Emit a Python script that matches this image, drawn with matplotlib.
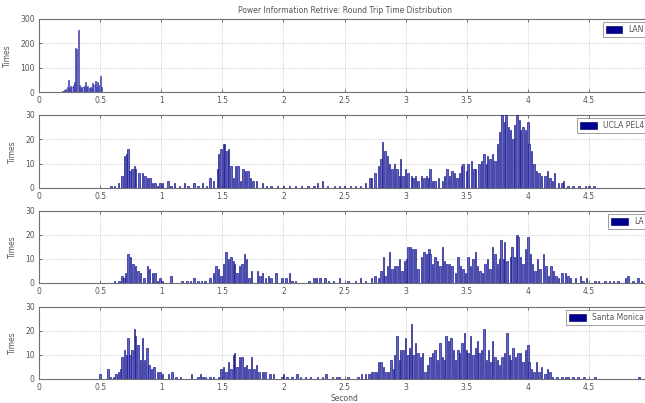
import matplotlib
matplotlib.use("Agg")
import matplotlib.pyplot as plt

title = "Power Information Retrive: Round Trip Time Distribution"
x_label = "Second"
y_label = "Times"
x_ticks = [0, 0.5, 1, 1.5, 2, 2.5, 3, 3.5, 4, 4.5]
x_tick_labels = ["0", "0.5", "1", "1.5", "2", "2.5", "3", "3.5", "4", "4.5"]

# LAN
lan_sec = [0.19, 0.20, 0.21, 0.22, 0.23, 0.24, 0.25, 0.26, 0.27, 0.28, 0.29, 0.30, 0.31, 0.32,
           0.33, 0.34, 0.35, 0.36, 0.37, 0.38, 0.39, 0.40, 0.41, 0.42, 0.43, 0.44, 0.45, 0.46,
           0.47, 0.48, 0.49, 0.50, 0.51]
lan_cnt = [3, 5, 10, 12, 20, 50, 15, 25, 20, 30, 40, 180, 175, 255,
           30, 20, 15, 20, 25, 40, 20, 25, 15, 20, 15, 35, 30, 45,
           20, 40, 30, 65, 20]

# UCLA PEL4
ucla_sec = [0.59, 0.62, 0.65, 0.68, 0.70, 0.715, 0.73, 0.745, 0.76, 0.78, 0.79, 0.82, 0.845, 0.867,
            0.89, 0.91, 0.93, 0.95, 0.97, 0.99, 1.01, 1.055, 1.08, 1.11, 1.15, 1.19, 1.22, 1.27,
            1.30, 1.34, 1.37, 1.40, 1.43, 1.46, 1.47, 1.49, 1.51, 1.52, 1.54, 1.55, 1.57, 1.59,
            1.61, 1.63, 1.65, 1.67, 1.69, 1.71, 1.73, 1.75, 1.78, 1.83, 1.86, 1.90, 1.95, 2.00,
            2.05, 2.10, 2.15, 2.20, 2.25, 2.28, 2.32, 2.36, 2.42, 2.46, 2.50, 2.55, 2.59, 2.63,
            2.67, 2.71, 2.72, 2.75, 2.78, 2.80, 2.81, 2.83, 2.85, 2.87, 2.89, 2.91, 2.93, 2.95,
            2.96, 2.98, 3.00, 3.02, 3.05, 3.06, 3.08, 3.10, 3.13, 3.15, 3.17, 3.19, 3.20, 3.22,
            3.24, 3.27, 3.30, 3.32, 3.34, 3.36, 3.38, 3.40, 3.42, 3.44, 3.46, 3.47, 3.50, 3.51,
            3.54, 3.56, 3.57, 3.60, 3.62, 3.64, 3.66, 3.67, 3.69, 3.71, 3.73, 3.75, 3.77, 3.79,
            3.81, 3.82, 3.84, 3.86, 3.88, 3.89, 3.91, 3.93, 3.94, 3.96, 3.98, 4.00, 4.01, 4.03,
            4.05, 4.07, 4.09, 4.11, 4.14, 4.16, 4.18, 4.20, 4.22, 4.25, 4.28, 4.29, 4.33, 4.37,
            4.42, 4.47, 4.50, 4.54]
ucla_cnt = [1, 1, 2, 5, 13, 14, 16, 7, 8, 9, 8, 6, 6, 5,
            4, 4, 2, 2, 1, 2, 2, 3, 1, 2, 1, 2, 1, 2,
            1, 2, 1, 4, 3, 8, 14, 16, 18, 18, 15, 16, 9, 4,
            9, 9, 3, 8, 7, 7, 4, 3, 3, 2, 1, 1, 1, 1,
            1, 1, 1, 1, 1, 2, 3, 1, 1, 1, 1, 1, 1, 1,
            2, 4, 4, 6, 9, 12, 19, 15, 13, 10, 8, 10, 8, 5,
            12, 5, 8, 6, 5, 4, 5, 3, 5, 4, 5, 4, 8, 3,
            3, 4, 3, 5, 8, 5, 7, 6, 4, 6, 9, 10, 7, 10,
            11, 8, 8, 10, 11, 14, 10, 13, 12, 14, 11, 18, 23, 30,
            27, 30, 25, 24, 20, 26, 30, 28, 24, 25, 24, 27, 18, 15,
            10, 7, 6, 5, 5, 7, 4, 3, 6, 2, 2, 3, 1, 1,
            1, 1, 1, 1]

# LA
la_sec = [0.62, 0.655, 0.68, 0.695, 0.71, 0.73, 0.75, 0.77, 0.79, 0.81, 0.83, 0.86, 0.89, 0.905,
          0.93, 0.95, 0.97, 0.99, 1.01, 1.08, 1.17, 1.21, 1.24, 1.27, 1.30, 1.33, 1.36, 1.40,
          1.43, 1.45, 1.47, 1.49, 1.51, 1.53, 1.55, 1.57, 1.59, 1.60, 1.62, 1.64, 1.66, 1.68,
          1.70, 1.72, 1.74, 1.79, 1.81, 1.83, 1.855, 1.88, 1.90, 1.94, 1.99, 2.02, 2.05, 2.07,
          2.10, 2.21, 2.25, 2.27, 2.30, 2.34, 2.37, 2.41, 2.46, 2.53, 2.59, 2.63, 2.67, 2.72,
          2.75, 2.78, 2.80, 2.82, 2.83, 2.85, 2.87, 2.89, 2.91, 2.93, 2.95, 2.97, 2.99, 3.01,
          3.02, 3.04, 3.06, 3.08, 3.10, 3.13, 3.15, 3.17, 3.19, 3.20, 3.22, 3.24, 3.26, 3.28,
          3.30, 3.32, 3.34, 3.36, 3.38, 3.41, 3.43, 3.45, 3.47, 3.49, 3.51, 3.53, 3.55, 3.57,
          3.59, 3.61, 3.63, 3.65, 3.67, 3.69, 3.71, 3.73, 3.75, 3.77, 3.78, 3.80, 3.81, 3.83,
          3.86, 3.87, 3.89, 3.91, 3.92, 3.94, 3.96, 3.98, 4.00, 4.02, 4.04, 4.06, 4.08, 4.10,
          4.13, 4.15, 4.17, 4.19, 4.21, 4.23, 4.25, 4.28, 4.31, 4.33, 4.35, 4.39, 4.43, 4.45,
          4.48, 4.55, 4.58, 4.63, 4.67, 4.70, 4.74, 4.80, 4.82, 4.86, 4.90, 4.93]
la_cnt = [1, 1, 3, 2, 4, 12, 11, 8, 7, 5, 4, 2, 7, 6,
          4, 4, 1, 2, 1, 3, 1, 1, 1, 2, 1, 1, 1, 2,
          4, 7, 6, 3, 8, 13, 10, 11, 9, 8, 4, 7, 8, 12,
          10, 2, 5, 5, 3, 4, 2, 3, 2, 4, 2, 2, 4, 1,
          1, 1, 2, 2, 2, 2, 1, 1, 2, 1, 1, 2, 1, 2,
          3, 2, 5, 11, 3, 7, 13, 6, 7, 7, 10, 5, 9, 10,
          15, 15, 14, 14, 6, 11, 13, 12, 14, 12, 8, 11, 9, 7,
          15, 9, 8, 8, 7, 4, 11, 7, 6, 4, 11, 7, 10, 13,
          7, 5, 4, 8, 10, 6, 15, 12, 8, 10, 18, 10, 17, 9,
          11, 15, 11, 20, 19, 11, 8, 14, 19, 12, 8, 5, 10, 6,
          12, 7, 3, 7, 5, 3, 2, 4, 4, 3, 2, 2, 3, 1,
          2, 1, 1, 1, 1, 1, 1, 2, 3, 1, 2, 1]

# Santa Monica
sm_sec = [0.50, 0.565, 0.585, 0.61, 0.63, 0.65, 0.67, 0.68, 0.70, 0.715, 0.73, 0.745, 0.76, 0.78,
          0.79, 0.81, 0.83, 0.845, 0.865, 0.885, 0.90, 0.92, 0.94, 0.97, 0.99, 1.01, 1.06, 1.09,
          1.12, 1.16, 1.25, 1.30, 1.32, 1.34, 1.36, 1.40, 1.43, 1.47, 1.49, 1.51, 1.53, 1.55,
          1.57, 1.59, 1.60, 1.62, 1.64, 1.66, 1.68, 1.70, 1.72, 1.74, 1.76, 1.78, 1.80, 1.83,
          1.85, 1.89, 1.92, 1.99, 2.00, 2.03, 2.07, 2.11, 2.14, 2.18, 2.22, 2.28, 2.32, 2.35,
          2.40, 2.44, 2.46, 2.53, 2.61, 2.64, 2.67, 2.70, 2.72, 2.74, 2.76, 2.78, 2.80, 2.82,
          2.84, 2.86, 2.88, 2.90, 2.91, 2.93, 2.95, 2.96, 2.98, 3.00, 3.02, 3.03, 3.05, 3.06,
          3.08, 3.10, 3.12, 3.14, 3.16, 3.18, 3.20, 3.22, 3.24, 3.26, 3.28, 3.30, 3.32, 3.33,
          3.35, 3.37, 3.39, 3.41, 3.43, 3.44, 3.46, 3.48, 3.50, 3.51, 3.53, 3.55, 3.57, 3.59,
          3.60, 3.62, 3.64, 3.66, 3.68, 3.70, 3.71, 3.73, 3.75, 3.77, 3.79, 3.81, 3.83, 3.85,
          3.86, 3.88, 3.90, 3.92, 3.94, 3.96, 3.98, 4.00, 4.01, 4.03, 4.05, 4.07, 4.09, 4.11,
          4.14, 4.16, 4.18, 4.20, 4.24, 4.28, 4.31, 4.33, 4.37, 4.41, 4.46, 4.55, 4.91]
sm_cnt = [2, 4, 1, 1, 2, 3, 4, 9, 12, 10, 17, 10, 12, 21,
          18, 14, 8, 17, 8, 13, 6, 4, 5, 3, 3, 2, 2, 3,
          1, 1, 2, 1, 2, 1, 1, 1, 1, 1, 4, 5, 3, 7,
          4, 10, 11, 5, 9, 9, 5, 6, 4, 9, 4, 6, 3, 3,
          3, 2, 2, 1, 2, 1, 1, 2, 1, 1, 1, 1, 1, 2,
          1, 1, 1, 1, 1, 2, 2, 2, 3, 3, 3, 7, 7, 5,
          3, 3, 8, 4, 10, 18, 8, 12, 12, 17, 10, 13, 23, 10,
          15, 11, 9, 11, 3, 6, 9, 11, 12, 8, 15, 9, 8, 18,
          16, 17, 12, 8, 12, 11, 15, 19, 12, 11, 18, 10, 13, 16,
          11, 12, 21, 8, 12, 7, 16, 9, 8, 6, 9, 11, 19, 10,
          8, 13, 9, 11, 11, 7, 12, 14, 7, 4, 3, 7, 3, 5,
          2, 4, 3, 1, 1, 1, 1, 1, 1, 1, 1, 1, 1]

series = [
    ("LAN", lan_sec, lan_cnt, 300, [0, 100, 200, 300], 0.009),
    ("UCLA PEL4", ucla_sec, ucla_cnt, 30, [0, 10, 20, 30], 0.012),
    ("LA", la_sec, la_cnt, 30, [0, 10, 20, 30], 0.012),
    ("Santa Monica", sm_sec, sm_cnt, 30, [0, 10, 20, 30], 0.012),
]

W, H = 645, 403
fig = plt.figure(figsize=(W / 100, H / 100), dpi=100)
fig.patch.set_facecolor("white")

# axes boxes in pixels: (top, bottom)
boxes = [(19, 92), (115, 188), (211, 283), (307, 379)]
left_px, right_px = 39, 650

txt = "#555555"

for i, ((name, xs, ys, ymax, yt, bw), (t, b)) in enumerate(zip(series, boxes)):
    ax = fig.add_axes([left_px / W, 1 - b / H, (right_px - left_px) / W, (b - t) / H])
    if i == 0:
        face, edge = "#9c9ce0", "#2a2aa0"
    else:
        face, edge = "#6565c4", "#10108a"
    ax.bar(xs, ys, width=bw, align="center", color=face, edgecolor=edge,
           linewidth=0.45, label=name, zorder=3)
    ax.set_xlim(0, 5)
    ax.set_ylim(0, ymax)
    ax.set_xticks(x_ticks)
    ax.set_xticklabels(x_tick_labels)
    ax.set_yticks(yt)
    ax.tick_params(direction="in", length=2.5, width=0.6, labelsize=5.5,
                   colors="#606060", labelcolor=txt, pad=3, top=True, right=True)
    ax.grid(True, linestyle=":", linewidth=0.5, color="#b0b0b0", zorder=0)
    for s in ax.spines.values():
        s.set_color("#707070")
        s.set_linewidth(0.8)
    ax.set_ylabel(y_label, fontsize=5.5, color=txt, labelpad=6)
    leg = ax.legend(loc="upper right", fontsize=5.5, frameon=True, fancybox=False,
                    borderaxespad=0.4, handlelength=2.2, handleheight=0.9,
                    borderpad=0.4, labelcolor=txt)
    leg.get_frame().set_edgecolor("#707070")
    leg.get_frame().set_linewidth(0.6)
    for p in leg.get_patches():
        p.set_facecolor("#000090")
        p.set_edgecolor("#000060")
    if i == 0:
        ax.set_title(title, fontsize=5.5, color=txt, pad=4)
    if i == 3:
        ax.set_xlabel(x_label, fontsize=5.5, color=txt, labelpad=1)

fig.savefig("out.png", dpi=100, facecolor="white")
